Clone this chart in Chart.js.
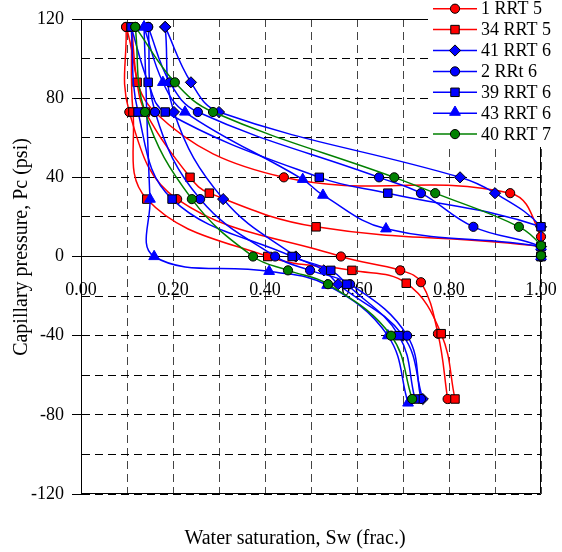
<!DOCTYPE html>
<html>
<head>
<meta charset="utf-8">
<script src="https://cdn.jsdelivr.net/npm/chart.js@4.4.0/dist/chart.umd.min.js"></script>
<style>
html,body{margin:0;padding:0;background:#fff;}
#wrap{position:relative;width:562px;height:552px;}
</style>
</head>
<body>
<div id="wrap"><canvas id="c" width="562" height="552"></canvas></div>
<script>
// ---------- DATA ----------
const seriesNames = ['1 RRT 5','34 RRT 5','41 RRT 6','2 RRt 6','39 RRT 6','43 RRT 6','40 RRT 7'];

// 1 RRT 5
const sw_1rrt5_dr = [1.000,1.000,0.933,0.441,0.160,0.098];
const pc_1rrt5_dr = [0,10,32,40,73,116];
const sw_1rrt5_im = [0.098,0.105,0.209,0.565,0.694,0.739,0.776,0.797];
const pc_1rrt5_im = [116,73,29,0,-7,-13,-39,-72];
// 34 RRT 5
const sw_34rrt5_dr = [1.000,1.000,0.511,0.279,0.237,0.140,0.122,0.110];
const pc_34rrt5_dr = [0,5,15,32,40,73,88,116];
const sw_34rrt5_im = [0.110,0.113,0.143,0.406,0.589,0.707,0.783,0.813];
const pc_34rrt5_im = [116,73,29,0,-7,-13.5,-39,-72];
// 41 RRT 6
const sw_41rrt6_dr = [1.000,1.000,1.000,0.900,0.824,0.300,0.239,0.183];
const pc_41rrt6_dr = [0,5,15,32,40,73,88,116];
const sw_41rrt6_im = [0.183,0.202,0.309,0.467,0.528,0.559,0.700,0.743];
const pc_41rrt6_im = [116,73,29,0,-7,-14,-40,-72];
// 2 RRt 6
const sw_2rrt6_dr = [1.000,1.000,0.853,0.739,0.648,0.254,0.193,0.146];
const pc_2rrt6_dr = [0,5,15,32,40,73,88,116];
const sw_2rrt6_im = [0.146,0.161,0.259,0.422,0.498,0.585,0.709,0.739];
const pc_2rrt6_im = [116,73,29,0,-7,-14,-40,-72];
// 39 RRT 6
const sw_39rrt6_dr = [1.000,1.000,1.000,0.667,0.518,0.183,0.146,0.109];
const pc_39rrt6_dr = [0,5,15,32,40,73,88,116];
const sw_39rrt6_im = [0.109,0.124,0.198,0.459,0.543,0.578,0.691,0.726];
const pc_39rrt6_im = [116,73,29,0,-7,-14,-40,-72];
// 43 RRT 6
const sw_43rrt6_dr = [1.000,1.000,0.663,0.526,0.482,0.226,0.178,0.137];
const pc_43rrt6_dr = [0,5,14,31,39,73,88,116];
const sw_43rrt6_im = [0.137,0.150,0.159,0.409,0.535,0.667,0.711];
const pc_43rrt6_im = [116,29,0,-7.5,-14.5,-40,-74];
// 40 RRT 7
const sw_40rrt7_dr = [1.000,1.000,0.952,0.770,0.681,0.287,0.204,0.118];
const pc_40rrt7_dr = [0.5,5.5,15,32,40,73,88,116];
const sw_40rrt7_im = [0.118,0.139,0.241,0.374,0.450,0.537,0.674,0.720];
const pc_40rrt7_im = [116,73,29,0,-7,-14,-40,-72];

const xTickValues = [0,0.2,0.4,0.6,0.8,1.0];
const yTickValues = [-120,-80,-40,0,40,80,120];

// ---------- STYLES ----------
const RED='#FF0000', BLUE='#0000FF', GREEN='#008000';
const styles = {
  '1 RRT 5': {color:RED,  ps:'circle',   r:4.6, fill:RED,   border:'#000'},
  '34 RRT 5':{color:RED,  ps:'rect',     r:6.0, fill:RED,   border:'#000'},
  '41 RRT 6':{color:BLUE, ps:'rectRot',  r:5.6, fill:BLUE,  border:'#000'},
  '2 RRt 6': {color:BLUE, ps:'circle',   r:4.6, fill:BLUE,  border:'#000'},
  '39 RRT 6':{color:BLUE, ps:'rect',     r:6.0, fill:BLUE,  border:'#000'},
  '43 RRT 6':{color:BLUE, ps:'triangle', r:6.2, fill:BLUE,  border:BLUE},
  '40 RRT 7':{color:GREEN,ps:'circle',   r:4.6, fill:GREEN, border:'#000'}
};
const seriesData = {
  '1 RRT 5': [[sw_1rrt5_dr,pc_1rrt5_dr],[sw_1rrt5_im,pc_1rrt5_im]],
  '34 RRT 5':[[sw_34rrt5_dr,pc_34rrt5_dr],[sw_34rrt5_im,pc_34rrt5_im]],
  '41 RRT 6':[[sw_41rrt6_dr,pc_41rrt6_dr],[sw_41rrt6_im,pc_41rrt6_im]],
  '2 RRt 6': [[sw_2rrt6_dr,pc_2rrt6_dr],[sw_2rrt6_im,pc_2rrt6_im]],
  '39 RRT 6':[[sw_39rrt6_dr,pc_39rrt6_dr],[sw_39rrt6_im,pc_39rrt6_im]],
  '43 RRT 6':[[sw_43rrt6_dr,pc_43rrt6_dr],[sw_43rrt6_im,pc_43rrt6_im]],
  '40 RRT 7':[[sw_40rrt7_dr,pc_40rrt7_dr],[sw_40rrt7_im,pc_40rrt7_im]]
};
// drawing stack: first = top
const stackOrder = ['40 RRT 7','43 RRT 6','39 RRT 6','2 RRt 6','41 RRT 6','34 RRT 5','1 RRT 5'];

const datasets = [];
stackOrder.forEach(name => {
  const st = styles[name];
  seriesData[name].forEach(([xs,ys]) => {
    datasets.push({
      label: name,
      data: xs.map((x,i)=>({x:x, y:ys[i]})),
      showLine: true,
      borderColor: st.color,
      borderWidth: 1.5,
      tension: 0.4,
      pointStyle: st.ps,
      pointRadius: st.r,
      pointBackgroundColor: st.fill,
      pointBorderColor: st.border,
      pointBorderWidth: 1,
      clip: false
    });
  });
});

const FONT = 'Liberation Serif, Times New Roman, serif';

function drawMarker(ctx, ps, r, x, y){
  ctx.beginPath();
  if(ps==='circle'){ ctx.arc(x,y,r,0,Math.PI*2); }
  else if(ps==='rect'){ const s=Math.SQRT1_2*r; ctx.rect(x-s,y-s,2*s,2*s); }
  else if(ps==='rectRot'){ ctx.moveTo(x,y-r); ctx.lineTo(x+r,y); ctx.lineTo(x,y+r); ctx.lineTo(x-r,y); ctx.closePath(); }
  else if(ps==='triangle'){
    const a=-Math.PI/2;
    ctx.moveTo(x+Math.cos(a)*r, y+Math.sin(a)*r);
    ctx.lineTo(x+Math.cos(a+2*Math.PI/3)*r, y+Math.sin(a+2*Math.PI/3)*r);
    ctx.lineTo(x+Math.cos(a+4*Math.PI/3)*r, y+Math.sin(a+4*Math.PI/3)*r);
    ctx.closePath();
  }
  ctx.fill(); ctx.stroke();
}

const decor = {
  id:'decor',
  beforeDatasetsDraw(chart){
    const {ctx, chartArea:a} = chart;
    ctx.save();
    ctx.setLineDash([]);
    ctx.strokeStyle='#000'; ctx.lineWidth=1;
    const t=Math.round(a.top)+0.5, b=Math.round(a.bottom)-0.5, r=Math.round(a.right)-0.5, l=Math.round(a.left)+0.5;
    ctx.beginPath();
    ctx.moveTo(l,t); ctx.lineTo(r,t);
    ctx.moveTo(r,t); ctx.lineTo(r,b);
    ctx.moveTo(l,b); ctx.lineTo(r,b);
    ctx.stroke();
    ctx.restore();
  },
  afterDraw(chart){
    const {ctx} = chart;
    ctx.save();
    // titles
    ctx.fillStyle='#000';
    ctx.font = '20px ' + FONT;
    ctx.textAlign='center'; ctx.textBaseline='middle';
    ctx.fillText('Water saturation, Sw (frac.)', 295, 539);
    ctx.save();
    ctx.translate(22, 247);
    ctx.rotate(-Math.PI/2);
    ctx.fillText('Capillary pressure, Pc (psi)', 0, 0);
    ctx.restore();
    // legend
    ctx.fillStyle='#fff';
    ctx.fillRect(428,0,134,147);
    seriesNames.forEach((name,i)=>{
      const st = styles[name];
      const y = 8.7 + i*20.9;
      ctx.strokeStyle = st.color; ctx.lineWidth=1.5; ctx.setLineDash([]);
      ctx.beginPath(); ctx.moveTo(433,y); ctx.lineTo(477,y); ctx.stroke();
      ctx.fillStyle = st.fill; ctx.strokeStyle = st.border; ctx.lineWidth=1;
      drawMarker(ctx, st.ps, st.r, 455, st.ps==='triangle'? y-1 : y);
      ctx.fillStyle='#000';
      ctx.font='18px ' + FONT;
      ctx.textAlign='left'; ctx.textBaseline='middle';
      ctx.fillText(name, 481, y+1);
    });
    ctx.restore();
  }
};

new Chart(document.getElementById('c'), {
  type:'scatter',
  data:{datasets},
  plugins:[decor],
  options:{
    responsive:false,
    animation:false,
    devicePixelRatio:1,
    layout:{padding:{left:0,right:21,top:19,bottom:58}},
    plugins:{legend:{display:false}, tooltip:{enabled:false}},
    elements:{line:{capBezierPoints:true}},
    scales:{
      x:{
        type:'linear', min:0, max:1, position:{y:0},
        afterFit:(s)=>{ s.paddingLeft = 0; s.paddingRight = 0; },
        ticks:{
          stepSize:0.1, autoSkip:false, maxRotation:0, padding:23, color:'#000',
          font:{family:FONT, size:18},
          callback:(v)=>{ const k=Math.round(v*10); return xTickValues.some(t=>Math.round(t*10)===k) ? (k/10).toFixed(2) : ''; }
        },
        grid:{color:'#444', lineWidth:1, drawTicks:false},
        border:{display:true, color:'#000', width:1, dash:[8,5]}
      },
      y:{
        type:'linear', min:-120, max:120, position:'left',
        afterFit:(s)=>{ s.width = 81; s.paddingTop = 0; s.paddingBottom = 0; },
        ticks:{
          stepSize:20, autoSkip:false, padding:8, color:'#000',
          font:{family:FONT, size:18},
          callback:(v)=> yTickValues.includes(v) ? String(v) : ''
        },
        grid:{
          color:'#000', lineWidth:1, tickLength:9,
          tickColor:(c)=> (c.tick && yTickValues.includes(c.tick.value)) ? '#000' : 'rgba(0,0,0,0)'
        },
        border:{display:true, color:'#000', width:1, dash:[8,5]}
      }
    }
  }
});
</script>
</body>
</html>
